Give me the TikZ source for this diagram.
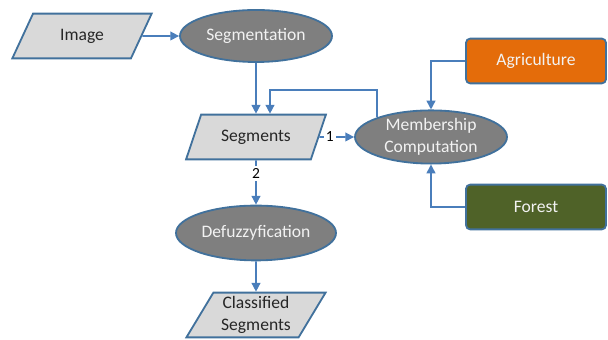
\documentclass[tikz,border=0pt]{standalone}
\usepackage{fontspec}
\setmainfont{Carlito}
\usetikzlibrary{arrows.meta,shapes.geometric}
\definecolor{edgeblue}{HTML}{41719C}
\definecolor{lineblue}{HTML}{4A7EBB}
\definecolor{datagray}{HTML}{D9D9D9}
\definecolor{procgray}{HTML}{7F7F7F}
\definecolor{agriorange}{HTML}{E46C0A}
\definecolor{forestgreen}{HTML}{4F6228}

\begin{document}
\begin{tikzpicture}[every node/.style={font=\fontsize{12.5}{15.5}\selectfont},
	data/.style={trapezium, trapezium left angle=60, trapezium right angle=120, trapezium stretches, draw=edgeblue, line width=1.3pt, fill=datagray, text=black!85, minimum width=3.5cm, minimum height=1.12cm, align=center, inner sep=1pt},
	proc/.style={ellipse, draw=edgeblue, line width=1.3pt, fill=procgray, text=white!95!black, minimum width=3.8cm, minimum height=1.3cm, align=center, inner sep=0pt},
	classbox/.style={rectangle, rounded corners=3pt, draw=edgeblue, line width=1.3pt, text=white!95!black, minimum width=3.5cm, minimum height=1.12cm},
	conn/.style={draw=lineblue, line width=1.1pt, -{Triangle[length=2.2mm, width=2.2mm]}},
	num/.style={fill=white, inner sep=1.5pt, font=\fontsize{11}{13}\selectfont}]
	\useasboundingbox (0,0) rectangle (15.2,8.5);
	% nodes
	\node[data] (img) at (2.05,7.6) {Image};
	\node[proc] (segm) at (6.4,7.6) {Segmentation};
	\node[data] (segs) at (6.4,5.075) {Segments};
	\node[proc, minimum height=1.33cm] (memb) at (10.775,5.075) {Membership\\Computation};
	\node[classbox, fill=agriorange] (agri) at (13.4,6.975) {Agriculture};
	\node[classbox, fill=forestgreen] (forest) at (13.4,3.325) {Forest};
	\node[proc, minimum width=4cm, minimum height=1.37cm] (defuz) at (6.4,2.675) {Defuzzyfication};
	\node[data] (cls) at (6.4,0.625) {Classified\\Segments};
	% connectors
	\draw[conn] (img) -- (segm);
	\draw[conn] (segm) -- (segs);
	\coordinate (back) at (6.75,6.25);
	\draw[conn] (memb.160) |- (back) -- (back |- segs.north);
	\draw[conn] (segs) -- node[num, pos=0.3] {1} (memb);
	\draw[conn] (agri.west) -| (memb.north);
	\draw[conn] (forest.west) -| (memb.south);
	\draw[conn] (segs) -- node[num, pos=0.3] {2} (defuz);
	\draw[conn] (defuz) -- (cls);
\end{tikzpicture}
\end{document}
